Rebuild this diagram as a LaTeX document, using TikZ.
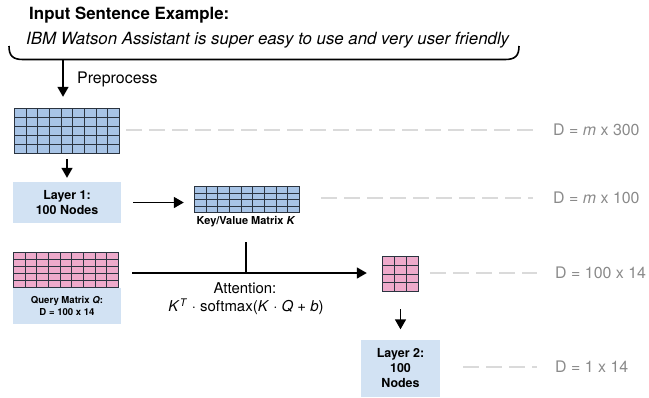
\documentclass[tikz,border=0pt]{standalone}
\usepackage{fontspec}
\setmainfont{TeX Gyre Heros}
\usetikzlibrary{arrows.meta,calc}

\definecolor{cellblue}{HTML}{A8C4E6}
\definecolor{cellpink}{HTML}{EEAACB}
\definecolor{celledge}{HTML}{2B3440}
\definecolor{boxblue}{HTML}{D2E2F3}
\definecolor{guidegray}{HTML}{DADADA}
\definecolor{labelgray}{HTML}{8A8A8A}

\tikzset{
  arr/.style={line width=1.6bp, -{Triangle[length=10bp,width=11bp]}},
  guide/.style={draw=guidegray, line width=2.6bp, dash pattern=on 16bp off 7bp},
  dimlabel/.style={anchor=west, text=labelgray, inner sep=0pt,
    font=\fontsize{16}{19}\selectfont},
  cellbox/.style={draw=celledge, line width=1.4bp, inner sep=0pt},
  cellline/.style={draw=celledge, line width=1.4bp},
  layerbox/.style={fill=boxblue, inner sep=0pt, align=center,
    font=\bfseries\fontsize{12.5}{15}\selectfont},
}

% inner lines of a cell grid spanning (#1,#2)--(#3,#4), kept on whole units:
% #5 columns with #6 inner lines, #7 rows with #8 inner lines
\newcommand\drawcells[8]{%
  \foreach \k in {1,...,#6}{%
    \pgfmathsetmacro\gx{floor(#1+(#3-#1)*\k/#5)+0.5}%
    \draw[cellline] (\gx,#2) -- (\gx,#4);}%
  \foreach \k in {1,...,#8}{%
    \pgfmathsetmacro\gy{floor(#2+(#4-#2)*\k/#7)+0.5}%
    \draw[cellline] (#1,\gy) -- (#3,\gy);}%
}

\begin{document}
\begin{tikzpicture}[x=1bp, y=-1bp]
\useasboundingbox (0,0) rectangle (649,397);

% input sentence and its bracket
\node[anchor=west, inner sep=0pt, font=\bfseries\fontsize{16.9}{20}\selectfont]
  (title) at (29,15) {Input Sentence Example:};
\node[anchor=west, inner sep=0pt, font=\itshape\fontsize{16.9}{20}\selectfont]
  (sent) at (26,40) {IBM Watson Assistant is super easy to use and very user friendly};
\draw[line width=1.6bp] (9,46) .. controls (9,56) and (13,59.5) .. (23,59.5)
  -- (505,59.5) .. controls (515,59.5) and (519,56) .. (519,46);
\coordinate (bt) at (63,59.5);

% embedding matrix
\node[cellbox, fill=cellblue, minimum width=105bp, minimum height=45bp]
  (emb) at (67,131) {};
\drawcells{14.5}{108.5}{119.5}{153.5}{9}{8}{5}{4}
\draw[arr, shorten >=11bp] (bt) -- (bt |- emb.north);
\node[anchor=west, inner sep=0pt, font=\fontsize{16}{19}\selectfont]
  (pre) at (77,79) {Preprocess};

% layer 1
\node[layerbox, minimum width=108bp, minimum height=41bp]
  (l1) at (67,202.5) {Layer 1:\\100 Nodes};
\draw[arr, shorten <=5bp, shorten >=4bp] (emb.south) -- (l1.north);

% key/value matrix
\node[cellbox, fill=cellblue, minimum width=105bp, minimum height=26bp]
  (key) at (247,199.5) {};
\drawcells{194.5}{186.5}{299.5}{212.5}{9}{8}{4}{3}
\node[inner sep=0pt, font=\bfseries\fontsize{11}{13}\selectfont]
  (keylab) at (246,222) {Key/Value Matrix \textit{K}};
\draw[arr, shorten <=12bp, shorten >=10bp] (l1.east) -- (l1.east -| key.west);

% query matrix
\node[cellbox, fill=cellpink, minimum width=105bp, minimum height=35bp]
  (qry) at (66,270) {};
\drawcells{13.5}{252.5}{118.5}{287.5}{9}{8}{5}{4}
\node[fill=boxblue, inner sep=0pt, align=center, minimum width=108bp, minimum height=36bp,
  font=\bfseries\fontsize{9.6}{12}\selectfont]
  (qlab) at (67,305.5) {Query Matrix \textit{Q}:\\D = 100 x 14};

% attention result
\node[cellbox, fill=cellpink, minimum width=36bp, minimum height=35bp]
  (res) at (400.5,274) {};
\drawcells{382.5}{256.5}{418.5}{291.5}{3}{2}{4}{3}
\coordinate (junc) at (keylab.south |- 0,273);
\draw[line width=1.6bp, shorten <=15bp] (keylab.south) -- (junc);
\draw[arr, shorten <=13bp, shorten >=15bp] (qry.east |- junc) -- (res.west |- junc);
\node[inner sep=0pt, font=\fontsize{15}{18}\selectfont] (att) at (245,288) {Attention:};
\node[inner sep=0pt, font=\fontsize{15}{18}\selectfont] (form) at (246,307)
  {\textit{K}\textsuperscript{\textit{T}} · softmax(\textit{K} · \textit{Q} + \textit{b})};

% layer 2
\node[layerbox, minimum width=79bp, minimum height=57bp]
  (l2) at (400.5,368) {Layer 2:\\100\\Nodes};
\draw[arr, shorten <=17bp, shorten >=10bp] (res.south) -- (l2.north);

% dimension guides
\node[dimlabel] (d1) at (553,130) {D = \textit{m} x 300};
\node[dimlabel] (d2) at (553,198) {D = \textit{m} x 100};
\node[dimlabel] (d3) at (555,273) {D = 100 x 14};
\node[dimlabel] (d4) at (555,367) {D = 1 x 14};
\draw[guide, shorten <=6bp, shorten >=20bp] (emb.east |- d1.west) -- (d1.west);
\draw[guide, shorten <=21bp, shorten >=20bp] (key.east |- d2.west) -- (d2.west);
\draw[guide, shorten <=11bp, shorten >=18bp] (res.east |- d3.west) -- (d3.west);
\draw[guide, shorten <=23bp, shorten >=18bp] (l2.east |- d4.west) -- (d4.west);
\end{tikzpicture}
\end{document}
